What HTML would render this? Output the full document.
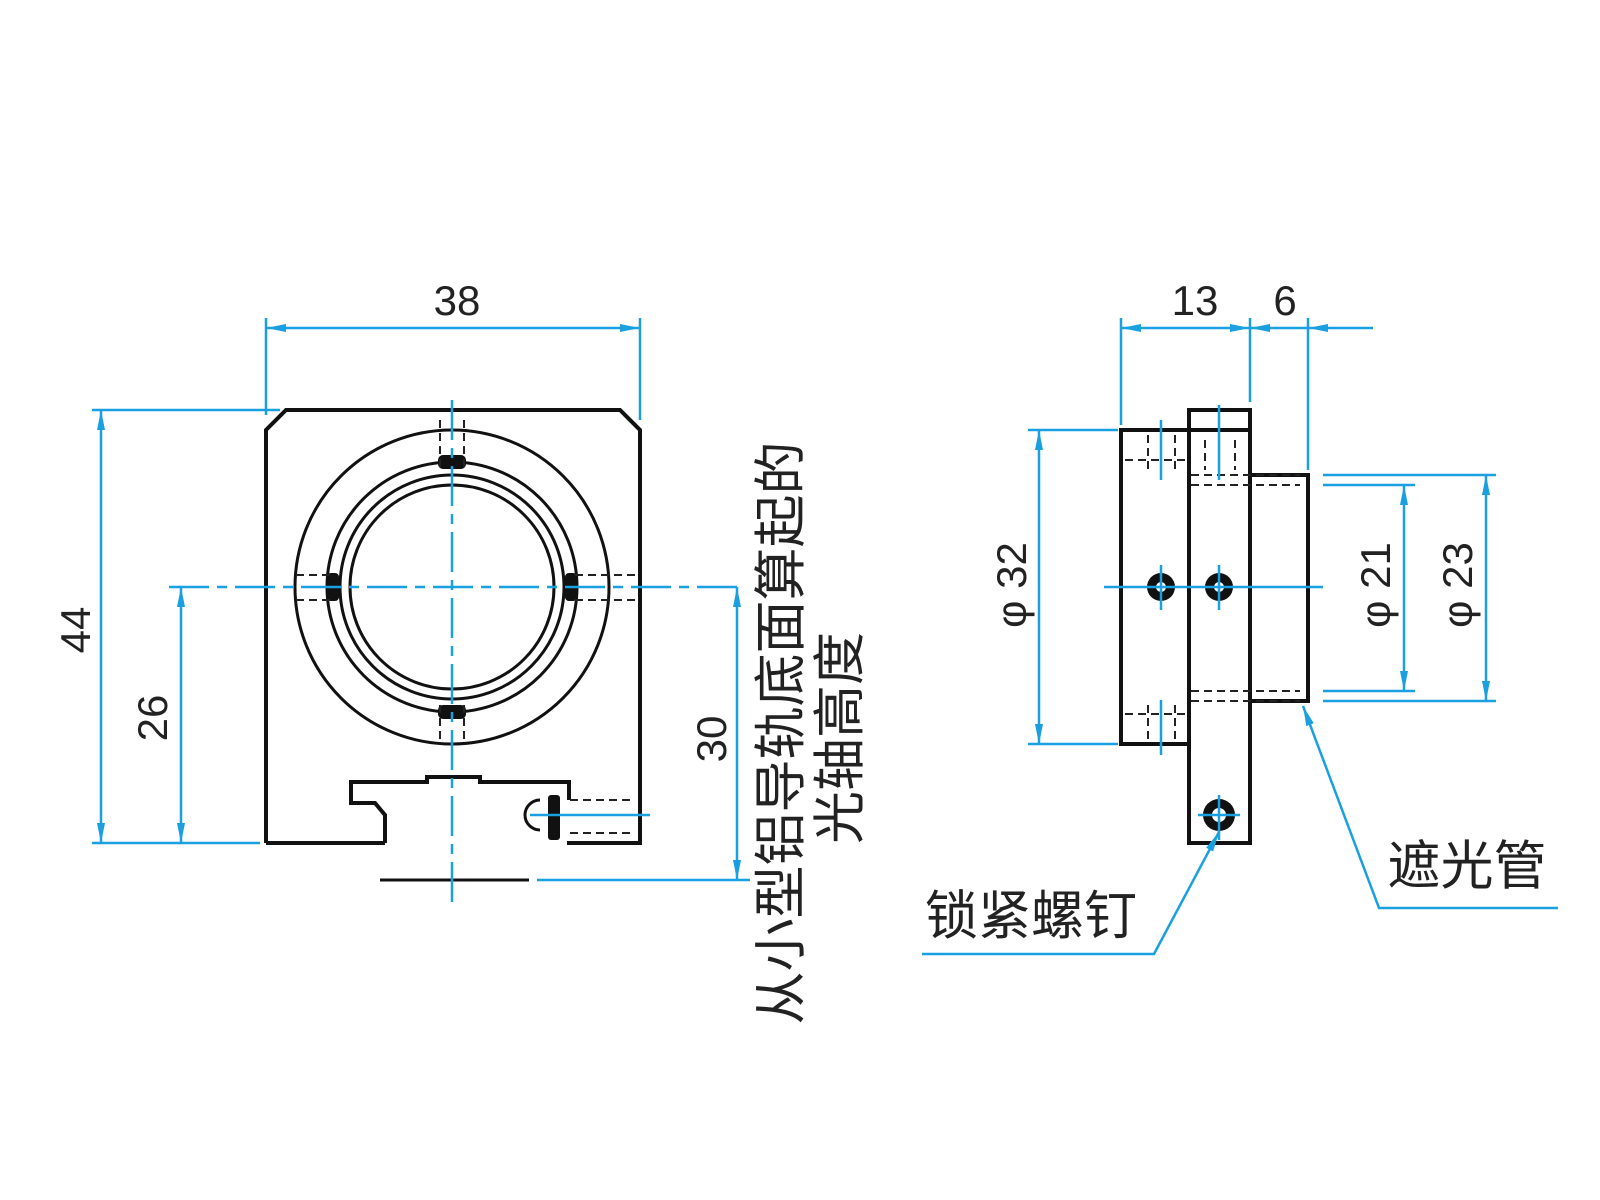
<!DOCTYPE html>
<html><head><meta charset="utf-8"><style>
html,body{margin:0;padding:0;background:#fff;width:1600px;height:1200px;overflow:hidden}
svg{display:block}
text{font-family:"Liberation Sans","Noto Sans CJK SC",sans-serif;fill:#222}
</style></head><body>
<svg width="1600" height="1200" viewBox="0 0 1600 1200" xmlns="http://www.w3.org/2000/svg">
<defs>
<marker id="a" viewBox="0 0 20 10" refX="20" refY="5" markerWidth="20" markerHeight="10" markerUnits="userSpaceOnUse" orient="auto-start-reverse"><path d="M0,1 L20,5 L0,9 Z" fill="#1aa0e0"/></marker>
</defs>
<g fill="none" stroke="#111" stroke-width="4">
<path d="M266,843 L266,430 L286,410 L620,410 L640,430 L640,843 L567,843 M385,843 L266,843"/>
<path d="M385,843 L385,815 L375,803 L351,803 L351,782 L427,782 L427,777 L480,777 L480,782 L569,782 L569,800"/>
<circle cx="452" cy="587" r="157" stroke-width="3"/>
<circle cx="452" cy="587" r="125" stroke-width="3"/>
<circle cx="452" cy="587" r="112" stroke-width="3"/>
<circle cx="452" cy="587" r="102" stroke-width="3"/>
<path d="M540,830 a12,12 0 0 1 0,-30" stroke-width="3"/>
<path d="M380,880 L529,880" stroke-width="3"/>
<rect x="1121" y="430" width="68" height="314"/>
<rect x="1189" y="410" width="61" height="433"/>
<rect x="1250" y="475" width="58" height="226"/>
<path d="M1189,430 L1250,430"/>
</g>
<g fill="#111">
<rect x="438" y="455" width="28" height="14" rx="5"/>
<rect x="438" y="705" width="28" height="14" rx="5"/>
<rect x="327" y="573" width="12" height="28" rx="4"/>
<rect x="565" y="573" width="12" height="28" rx="4"/>
<rect x="548" y="795" width="12" height="45" rx="3"/>
<circle cx="1161" cy="587" r="14"/><circle cx="1219" cy="587" r="14"/><circle cx="1219" cy="815" r="16"/>
</g>
<g fill="#fff"><circle cx="1161" cy="587" r="5"/><circle cx="1219" cy="587" r="5"/><circle cx="1219" cy="815" r="7"/></g>
<g fill="none" stroke="#222" stroke-width="2" stroke-dasharray="8,5">
<path d="M570,800 L635,800 M570,833 L635,833 M568,815 L635,815"/>
<path d="M440,420 L440,470 M464,420 L464,470 M440,705 L440,743 M464,705 L464,743"/>
<path d="M296,575 L330,575 M296,600 L330,600 M575,575 L640,575 M575,600 L640,600"/>
<path d="M1125,460 L1187,460 M1125,714 L1187,714 M1148,435 L1148,470 M1175,435 L1175,470 M1148,705 L1148,740 M1175,705 L1175,740"/>
<path d="M1191,475 L1300,475 M1191,485 L1300,485 M1191,691 L1300,691 M1191,701 L1300,701 M1205,440 L1205,470 M1235,440 L1235,470"/>
</g>
<g fill="none" stroke="#1aa0e0" stroke-width="2.5">
<path d="M452,400 L452,903" stroke-dasharray="40,8,10,8"/>
<path d="M169,587 L745,587" stroke-dasharray="40,8,10,8"/>
<path d="M1104,587 L1323,587 M1161,565 L1161,610 M1219,565 L1219,610 M1219,795 L1219,840 M1198,815 L1240,815 M1161,420 L1161,480 M1219,405 L1219,480 M1161,700 L1161,755"/>
<path d="M530,815 L650,815"/>
<path d="M266,318 L266,415 M640,318 L640,420"/>
<path d="M266,328 L640,328" marker-start="url(#a)" marker-end="url(#a)"/>
<path d="M92,410 L280,410 M92,843 L260,843"/>
<path d="M101,410 L101,843" marker-start="url(#a)" marker-end="url(#a)"/>
<path d="M181,587 L181,843" marker-start="url(#a)" marker-end="url(#a)"/>
<path d="M537,880 L750,880"/>
<path d="M737,587 L737,880" marker-start="url(#a)" marker-end="url(#a)"/>
<path d="M1121,318 L1121,425 M1250,318 L1250,402 M1308,318 L1308,470"/>
<path d="M1121,328 L1250,328" marker-start="url(#a)" marker-end="url(#a)"/>
<path d="M1250,328 L1308,328" marker-start="url(#a)"/>
<path d="M1308,328 L1373,328" marker-start="url(#a)"/>
<path d="M1028,430 L1118,430 M1028,744 L1118,744"/>
<path d="M1039,430 L1039,744" marker-start="url(#a)" marker-end="url(#a)"/>
<path d="M1323,475 L1496,475 M1323,701 L1496,701 M1323,485 L1415,485 M1323,691 L1415,691"/>
<path d="M1404,485 L1404,691" marker-start="url(#a)" marker-end="url(#a)"/>
<path d="M1486,475 L1486,701" marker-start="url(#a)" marker-end="url(#a)"/>
<path d="M922,954 L1154,954 L1219,832" marker-end="url(#a)"/>
<path d="M1558,908 L1379,908 L1303,706" marker-end="url(#a)"/>
</g>
<g font-size="42" text-anchor="middle">
<text x="457" y="315">38</text>
<text x="1195" y="315">13</text>
<text x="1285" y="315">6</text>
<text transform="translate(90,630) rotate(-90)">44</text>
<text transform="translate(167,718) rotate(-90)">26</text>
<text transform="translate(726,739) rotate(-90)">30</text>
<text transform="translate(1026,585) rotate(-90)">φ 32</text>
<text transform="translate(1390,585) rotate(-90)">φ 21</text>
<text transform="translate(1472,585) rotate(-90)">φ 23</text>
</g>
<g font-size="53" text-anchor="middle">
<text transform="translate(799,733) rotate(-90)">从小型铝导轨底面算起的</text>
<text transform="translate(858,738) rotate(-90)">光轴高度</text>
<text x="1031" y="934">锁紧螺钉</text>
<text x="1467" y="884">遮光管</text>
</g>
</svg>
</body></html>
